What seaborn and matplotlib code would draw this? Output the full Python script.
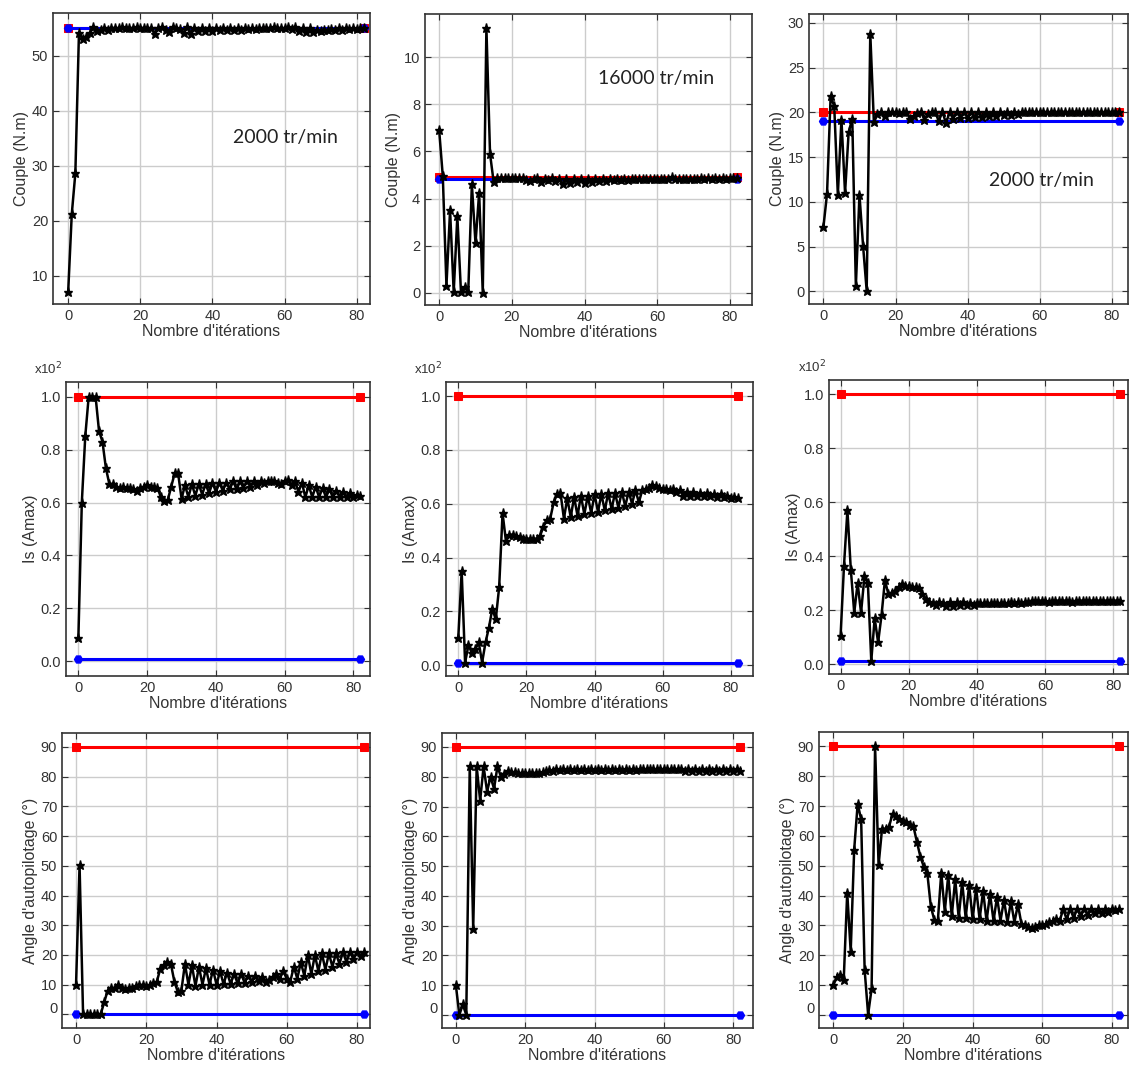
import matplotlib
matplotlib.use("Agg")
import matplotlib.pyplot as plt
import matplotlib.transforms as mtransforms
import numpy as np
import pandas as pd
import seaborn as sns

# couple (N.m) - ligne 1
couple_2000 = [7, 21.2, 28.7, 54.2, 53, 53.5, 54.2, 55.2, 54.5, 54.8,
               55, 54.8, 55, 55.1, 55, 55.2, 55, 55.1, 55, 55.2,
               55, 55.1, 55, 55, 54, 55, 55.2, 54.8, 54.3, 55.2,
               55, 54.9, 54.1, 55.2, 53.9, 55, 54.5, 55, 54.6, 55,
               54.6, 55, 54.7, 55, 54.7, 55, 54.8, 55, 54.8, 55,
               54.9, 55, 54.9, 55, 55, 55.1, 55, 55.2, 55, 55.1,
               55, 55.2, 54.9, 55.2, 54.5, 55, 54.3, 55, 54.3, 54.8,
               54.5, 54.8, 54.7, 54.9, 54.8, 55, 54.8, 55, 54.9, 55,
               54.9, 55, 55.1]
couple_16000 = [6.9, 4.95, 0.3, 3.5, 0.03, 3.25, 0.03, 0.25, 0.03, 4.6,
                2.1, 4.25, 0.0, 11.25, 5.9, 4.7, 4.88, 4.87, 4.88, 4.87,
                4.88, 4.87, 4.88, 4.86, 4.8, 4.75, 4.85, 4.88, 4.72, 4.85,
                4.8, 4.87, 4.75, 4.85, 4.6, 4.85, 4.65, 4.85, 4.7, 4.82,
                4.68, 4.82, 4.72, 4.82, 4.75, 4.82, 4.75, 4.83, 4.78, 4.83,
                4.8, 4.83, 4.8, 4.83, 4.82, 4.83, 4.82, 4.84, 4.83, 4.84,
                4.83, 4.84, 4.83, 4.84, 4.9, 4.83, 4.84, 4.83, 4.84, 4.83,
                4.85, 4.84, 4.87, 4.84, 4.87, 4.84, 4.88, 4.85, 4.88, 4.85,
                4.88, 4.86, 4.88]
couple_2000b = [7.2, 10.9, 21.8, 20.7, 10.8, 19.2, 11.0, 17.8, 19.3, 0.6,
                10.8, 5.1, 0.1, 28.8, 18.9, 19.8, 20.0, 19.6, 20.0, 20.0,
                20.0, 19.9, 20.0, 20.0, 19.3, 19.6, 19.9, 20.1, 19.2, 19.8,
                20.0, 20.1, 19.0, 20.1, 18.8, 20.0, 19.3, 20.1, 19.4, 20.0,
                19.4, 20.0, 19.5, 20.0, 19.5, 20.0, 19.6, 20.0, 19.6, 20.0,
                19.7, 20.0, 19.7, 20.0, 19.8, 20.0, 20.0, 20.0, 20.1, 20.0,
                20.0, 20.1, 20.0, 20.0, 20.1, 20.0, 20.0, 20.1, 20.0, 20.0,
                20.1, 20.0, 20.0, 20.1, 20.0, 20.0, 20.1, 20.0, 20.0, 20.1,
                20.0, 20.0, 20.1]

# courant Is (x10^2 Amax) - ligne 2
is_2000 = [0.09, 0.60, 0.85, 1.0, 1.0, 1.0, 0.87, 0.83, 0.73, 0.67,
           0.67, 0.66, 0.655, 0.66, 0.655, 0.655, 0.65, 0.645, 0.655, 0.66,
           0.665, 0.66, 0.66, 0.655, 0.62, 0.605, 0.61, 0.66, 0.71, 0.71,
           0.615, 0.665, 0.62, 0.67, 0.625, 0.67, 0.63, 0.67, 0.635, 0.675,
           0.64, 0.675, 0.645, 0.675, 0.65, 0.68, 0.65, 0.68, 0.655, 0.68,
           0.66, 0.68, 0.665, 0.68, 0.675, 0.68, 0.68, 0.68, 0.675, 0.67,
           0.68, 0.685, 0.665, 0.68, 0.64, 0.675, 0.62, 0.665, 0.62, 0.66,
           0.62, 0.655, 0.62, 0.65, 0.62, 0.645, 0.62, 0.64, 0.62, 0.635,
           0.62, 0.63, 0.625]
is_16000 = [0.10, 0.35, 0.01, 0.075, 0.045, 0.06, 0.085, 0.01, 0.085, 0.14,
            0.21, 0.17, 0.29, 0.565, 0.46, 0.485, 0.485, 0.48, 0.475, 0.47,
            0.47, 0.47, 0.47, 0.47, 0.48, 0.515, 0.54, 0.545, 0.605, 0.635,
            0.64, 0.545, 0.62, 0.55, 0.625, 0.555, 0.63, 0.56, 0.63, 0.565,
            0.635, 0.57, 0.635, 0.575, 0.64, 0.58, 0.64, 0.585, 0.645, 0.59,
            0.645, 0.6, 0.65, 0.605, 0.65, 0.655, 0.66, 0.67, 0.665, 0.66,
            0.655, 0.655, 0.65, 0.655, 0.645, 0.65, 0.63, 0.645, 0.63, 0.645,
            0.63, 0.64, 0.63, 0.64, 0.63, 0.635, 0.625, 0.635, 0.625, 0.63,
            0.62, 0.625, 0.62]
is_2000b = [0.105, 0.365, 0.57, 0.35, 0.19, 0.30, 0.19, 0.325, 0.30, 0.012,
            0.17, 0.08, 0.18, 0.31, 0.26, 0.265, 0.27, 0.285, 0.295, 0.29,
            0.29, 0.285, 0.285, 0.28, 0.26, 0.24, 0.23, 0.225, 0.22, 0.23,
            0.225, 0.215, 0.23, 0.215, 0.23, 0.22, 0.23, 0.22, 0.225, 0.22,
            0.225, 0.225, 0.225, 0.225, 0.225, 0.225, 0.225, 0.225, 0.225, 0.225,
            0.23, 0.225, 0.23, 0.225, 0.23, 0.23, 0.235, 0.235, 0.235, 0.235,
            0.235, 0.23, 0.235, 0.235, 0.235, 0.235, 0.235, 0.235, 0.23, 0.235,
            0.235, 0.235, 0.235, 0.235, 0.235, 0.235, 0.235, 0.235, 0.235, 0.235,
            0.235, 0.235, 0.235]

# angle d'autopilotage (deg) - ligne 3
angle_2000 = [10, 50.2, 0, 0, 0, 0, 0, 0, 4, 8,
              8.7, 9, 10, 9, 8.5, 9, 9, 9.5, 10, 9.8,
              9.5, 10, 10.5, 11, 15.4, 16.5, 17.5, 17, 11, 7.5,
              8, 17, 10, 16.5, 9.5, 16, 10, 15.5, 10, 15,
              10, 14.5, 10.2, 14, 10.3, 13.5, 10.5, 13.5, 10.7, 13,
              11, 12.8, 11.2, 12.5, 11, 11.5, 12.5, 13.5, 12, 14.5,
              12, 11, 16, 12, 17.5, 13, 20, 13.5, 20, 14.5,
              20.5, 15, 20.5, 16, 20.5, 17, 21, 17.5, 21, 18.5,
              21, 19.5, 21]
angle_16000 = [10, 0, 3.5, 0, 83.5, 29, 83.5, 72, 83.5, 75,
               80, 76, 83.5, 80, 81, 82, 81.5, 81.5, 81.2, 81.2,
               81.2, 81.2, 81.2, 81.3, 81.3, 81.5, 82, 82.2, 82, 82.5,
               82.3, 82.5, 82.3, 82.5, 82.3, 82.5, 82.3, 82.5, 82.3, 82.5,
               82.3, 82.5, 82.3, 82.5, 82.3, 82.5, 82.3, 82.5, 82.3, 82.5,
               82.3, 82.5, 82.3, 82.5, 82.5, 82.5, 82.5, 82.5, 82.5, 82.5,
               82.5, 82.5, 82.5, 82.5, 82.5, 82.5, 82, 82.5, 82, 82.5,
               82, 82.5, 82, 82.5, 82, 82.5, 82, 82.5, 82, 82.5,
               82, 82.5, 82]
angle_2000b = [9.9, 12.6, 13.5, 11.8, 41, 21.2, 55.4, 70.7, 65.5, 15.1,
               0.1, 8.8, 90, 50.2, 62.4, 62.4, 63, 67.4, 66.5, 65.5,
               65, 64.5, 63.5, 63.2, 58, 53, 49.6, 47.4, 36.3, 31.8,
               31.3, 47.7, 34.6, 46.8, 33, 45.5, 32.5, 44.5, 32.5, 43.5,
               32, 42.5, 32, 41.5, 31.5, 40.5, 31.5, 39.5, 31.5, 38.5,
               31, 38, 31, 37, 30.5, 30, 29.5, 29, 29.5, 30,
               30, 30.5, 31, 31.5, 32, 31.5, 35.5, 32, 35.5, 32.5,
               35.5, 33, 35.5, 33.5, 35.5, 34, 35.5, 34, 35.5, 34.5,
               35.5, 35, 35.5]

# bornes (min, max)
bornes_couple = [(55.0, 55.1), (4.85, 4.9), (19.0, 20.0)]
bornes_is = (0.01, 1.0)
bornes_angle = (0.0, 90.0)
vitesses = ["2000 tr/min", "16000 tr/min", "2000 tr/min"]

W, H = 1132, 1076


def rect(l, t, r, b):
    return [l / W, 1 - b / H, (r - l) / W, (b - t) / H]


sns.set_style("ticks")
plt.rcParams['font.family'] = ['Liberation Sans', 'DejaVu Sans']

fig = plt.figure(figsize=(W / 100, H / 100), dpi=100)

panels = [
    (couple_2000, bornes_couple[0], "Couple (N.m)", (53, 13, 370, 304), (-4.2, 83.7), (4.9, 57.8), [10, 20, 30, 40, 50], (45.8, 35.2), vitesses[0]),
    (couple_16000, bornes_couple[1], "Couple (N.m)", (425, 14, 752, 305), (-3.9, 86.1), (-0.52, 11.84), [0, 2, 4, 6, 8, 10], (43.8, 9.08), vitesses[1]),
    (couple_2000b, bornes_couple[2], "Couple (N.m)", (809, 14, 1128, 304), (-4.0, 84.5), (-1.4, 31.0), [0, 5, 10, 15, 20, 25, 30], (46.0, 12.45), vitesses[2]),
    (is_2000, bornes_is, "Is (Amax)", (66, 382, 370, 676), (-3.6, 84.8), (-0.055, 1.055), [0, 0.2, 0.4, 0.6, 0.8, 1.0], None, None),
    (is_16000, bornes_is, "Is (Amax)", (446, 382, 753, 676), (-3.6, 86.5), (-0.04, 1.052), [0, 0.2, 0.4, 0.6, 0.8, 1.0], None, None),
    (is_2000b, bornes_is, "Is (Amax)", (829, 380, 1128, 674), (-3.4, 84.3), (-0.037, 1.053), [0, 0.2, 0.4, 0.6, 0.8, 1.0], None, None),
    (angle_2000, bornes_angle, "Angle d'autopilotage (°)", (62, 733, 370, 1028), (-4.0, 83.7), (-4.6, 94.7), list(range(0, 91, 10)), None, None),
    (angle_16000, bornes_angle, "Angle d'autopilotage (°)", (442, 733, 753, 1028), (-4.0, 85.7), (-4.4, 94.7), list(range(0, 91, 10)), None, None),
    (angle_2000b, bornes_angle, "Angle d'autopilotage (°)", (819, 732, 1128, 1028), (-4.1, 84.6), (-4.4, 94.8), list(range(0, 91, 10)), None, None),
]

for i, (vals, (lo, hi), ylab, box, xl, yl, yt, txt_pos, txt) in enumerate(panels):
    ax = fig.add_axes(rect(*box))
    it = np.arange(len(vals))
    df = pd.DataFrame({"it": it, "val": vals})
    ends = pd.DataFrame({"it": [it[0], it[-1]]})

    sns.lineplot(x=ends["it"], y=[hi, hi], ax=ax, color="#ff0000", linewidth=2.2,
                 marker="s", markersize=6, markeredgecolor="#ff0000", zorder=2)
    sns.lineplot(x=ends["it"], y=[lo, lo], ax=ax, color="#0000ff", linewidth=2.2,
                 marker="H", markersize=6, markeredgecolor="#0000ff", zorder=3)
    sns.lineplot(data=df, x="it", y="val", ax=ax, color="black", linewidth=1.8,
                 marker="*", markersize=6.5, markeredgecolor="black",
                 markeredgewidth=1.0, zorder=4)

    ax.set_xlim(*xl)
    ax.set_ylim(*yl)
    ax.set_xticks([0, 20, 40, 60, 80])
    ax.set_yticks(yt)
    if 3 <= i < 6:
        ax.set_yticklabels([f"{v:.1f}" for v in yt])
        ax.text(-0.105, 1.015, "x10$^2$", transform=ax.transAxes, fontsize=9.5,
                color="#333333", ha="left", va="bottom")
    ax.grid(True, color="#cccccc", linewidth=1)
    ax.set_axisbelow(True)
    ax.tick_params(direction="in", top=True, right=True, length=4,
                   labelsize=10.5, labelcolor="#333333", color="#333333")
    for s in ax.spines.values():
        s.set_color("#333333")
        s.set_linewidth(1.2)
    ax.set_xlabel("Nombre d'itérations", fontsize=11.5, color="#333333", labelpad=1)
    ax.set_ylabel(ylab, fontsize=11.5, color="#333333", labelpad=2)
    if i >= 6:
        # le "0" est un peu remonté sur les graphes d'angle
        lab0 = ax.yaxis.get_major_ticks()[0].label1
        lab0.set_transform(lab0.get_transform() +
                           mtransforms.ScaledTranslation(0, 0.07, fig.dpi_scale_trans))
    if txt:
        ax.text(txt_pos[0], txt_pos[1], txt, fontsize=14, color="#222222",
                family=["Lato", "DejaVu Sans"], ha="left", va="center")

fig.savefig("out.png", dpi=100)
